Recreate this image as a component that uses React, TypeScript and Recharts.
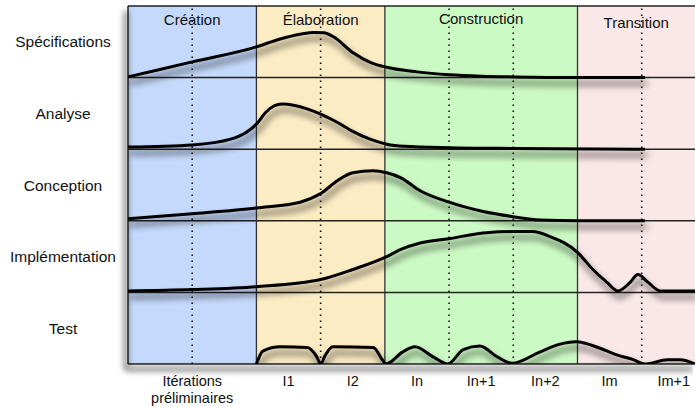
import React from 'react';
import { ComposedChart, Line, XAxis, YAxis, ReferenceArea, ReferenceLine } from 'recharts';

// Disciplines, bottom row first (row index = y offset)
const disciplineNames = ['Test', 'Implémentation', 'Conception', 'Analyse', 'Spécifications'];
const rowCenters = [0.5, 1.5, 2.5, 3.5, 4.5];

// Phases (x in iterations)
const phaseNames = ['Création', 'Élaboration', 'Construction', 'Transition'];
const phaseStarts = [0, 2, 4, 7];
const phaseEnds = [2, 4, 7, 8.83];

// Iteration boundaries
const phaseBoundaries = [2, 4, 7];
const iterationLines = [1, 3, 5, 6, 8];
const rowDividers = [1, 2, 3, 4];

// Bottom tick labels
const tickPositions = [1, 2.5, 3.5, 4.5, 5.5, 6.5, 7.5, 8.5];
const tickLabels = ['Itérations\npréliminaires', 'I1', 'I2', 'In', 'In+1', 'In+2', 'Im', 'Im+1'];

// Effort curves: [iteration, relative effort within row]
const specifications: [number, number][] = [
  [0, 0.01], [1, 0.22], [2, 0.43], [2.37, 0.54], [2.7, 0.61], [2.9, 0.63], [3.05, 0.625],
  [3.2, 0.57], [3.5, 0.35], [3.78, 0.21], [4.05, 0.14], [4.5, 0.08], [5, 0.04], [5.5, 0.02],
  [6, 0.01], [7, 0], [8.05, 0],
];
const analyse: [number, number][] = [
  [0, 0.03], [1, 0.06], [1.6, 0.14], [1.85, 0.24], [2, 0.35], [2.15, 0.52], [2.4, 0.63],
  [2.8, 0.56], [3, 0.49], [3.25, 0.38], [3.5, 0.25], [3.77, 0.14], [4.03, 0.07], [4.3, 0.04],
  [5, 0.02], [6, 0.01], [8.05, 0],
];
const conception: [number, number][] = [
  [0, 0.03], [1, 0.1], [2, 0.18], [2.68, 0.26], [3, 0.38], [3.26, 0.56], [3.5, 0.67],
  [3.82, 0.7], [4.03, 0.67], [4.25, 0.6], [4.55, 0.42], [5, 0.26], [5.53, 0.13], [5.98, 0.06],
  [6.42, 0.01], [7, 0], [8.05, 0],
];
const implementation: [number, number][] = [
  [0, 0.02], [1, 0.04], [2, 0.08], [3, 0.18], [3.5, 0.32], [4.03, 0.5], [4.25, 0.6],
  [4.55, 0.69], [5, 0.75], [5.53, 0.83], [6, 0.85], [6.3, 0.85], [6.57, 0.78], [7, 0.56],
  [7.24, 0.32], [7.46, 0.14], [7.63, 0.02], [7.82, 0.14], [7.94, 0.25], [8.1, 0.14],
  [8.29, 0.02], [8.83, 0.02],
];
const test: [number, number][] = [
  [2, 0], [2.1, 0.18], [2.37, 0.24], [2.79, 0.23], [2.94, 0.1], [3.0, 0], [3.07, 0.12],
  [3.19, 0.24], [3.82, 0.23], [3.96, 0.06], [4.02, 0], [4.28, 0.17], [4.47, 0.24], [4.75, 0.1],
  [4.98, 0], [5.22, 0.2], [5.48, 0.25], [5.75, 0.1], [5.98, 0.01], [6.42, 0.17], [6.7, 0.27],
  [6.98, 0.31], [7.35, 0.22], [7.6, 0.13], [7.87, 0.06], [8.05, 0], [8.4, 0.06], [8.6, 0.06],
  [8.83, 0],
];

const series = [test, implementation, conception, analyse, specifications];

// ---- styles ----
const FONT = '"Liberation Sans", Arial, Helvetica, sans-serif';
const phaseColors = ['#C4D9FB', '#FCECC4', '#CCFAC4', '#FAE8E8'];
const phaseLabelOffsets = [8, 8, 7, 11];
const WIDTH = 695;
const HEIGHT = 407;
const Y_AXIS_WIDTH = 128;

const toRow = (pts: [number, number][], row: number) => pts.map(([x, v]) => ({ x, y: row + v }));

const LeftTick = (props: any) => {
  const { y, payload } = props;
  const idx = rowCenters.indexOf(payload.value);
  return (
    <text x={Y_AXIS_WIDTH / 2 - 1} y={y} textAnchor="middle" dominantBaseline="central"
      fontFamily={FONT} fontSize={15.5} fill="#111">
      {disciplineNames[idx]}
    </text>
  );
};

const BottomTick = (props: any) => {
  const { x, y, payload } = props;
  const idx = tickPositions.indexOf(payload.value);
  const lines = (tickLabels[idx] || '').split('\n');
  return (
    <text x={x} y={y + 14} textAnchor="middle" fontFamily={FONT} fontSize={14.5} fill="#111">
      {lines.map((l, i) => (
        <tspan key={i} x={x} dy={i === 0 ? 0 : 17}>{l}</tspan>
      ))}
    </text>
  );
};

export default function App() {
  return (
    <div style={{ position: 'absolute', left: 0, top: 0, background: '#fff' }}>
      <ComposedChart width={WIDTH} height={HEIGHT} margin={{ top: 6, right: 0, left: 0, bottom: 0 }}>
        <defs>
          <filter id="hump-shadow" filterUnits="userSpaceOnUse" x="0" y="0" width={WIDTH} height={HEIGHT}>
            <feGaussianBlur in="SourceAlpha" stdDeviation="3.5" />
            <feOffset dx="2" dy="6" />
            <feComponentTransfer>
              <feFuncA type="linear" slope="0.75" />
            </feComponentTransfer>
            <feMerge>
              <feMergeNode />
              <feMergeNode in="SourceGraphic" />
            </feMerge>
          </filter>
          <filter id="frame-shadow" filterUnits="userSpaceOnUse" x="0" y="0" width={WIDTH} height={HEIGHT}>
            <feGaussianBlur in="SourceAlpha" stdDeviation="3" />
            <feOffset dx="-2" dy="5" />
            <feComponentTransfer>
              <feFuncA type="linear" slope="1.5" />
            </feComponentTransfer>
            <feMerge>
              <feMergeNode />
              <feMergeNode in="SourceGraphic" />
            </feMerge>
          </filter>
        </defs>
        <XAxis dataKey="x" type="number" domain={[0, 8.83]} allowDataOverflow ticks={tickPositions}
          interval={0} tick={<BottomTick />} axisLine={false} tickLine={false} height={43} />
        <YAxis type="number" domain={[0, 5]} allowDataOverflow ticks={rowCenters} interval={0}
          tick={<LeftTick />} axisLine={false} tickLine={false} width={Y_AXIS_WIDTH} />
        {phaseNames.map((name, i) => (
          <ReferenceArea key={name} x1={phaseStarts[i]} x2={phaseEnds[i]} y1={0} y2={5}
            fill={phaseColors[i]} fillOpacity={1} stroke="none" ifOverflow="hidden"
            label={{ value: name, position: 'insideTop', offset: phaseLabelOffsets[i], fill: '#111', fontSize: 15, fontFamily: FONT }} />
        ))}
        {iterationLines.map((x) => (
          <ReferenceLine key={'it' + x} x={x} stroke="#111" strokeWidth={1.6} strokeDasharray="1.6 4.4" />
        ))}
        {phaseBoundaries.map((x) => (
          <ReferenceLine key={'pb' + x} x={x} stroke="#333" strokeWidth={1.3} />
        ))}
        {rowDividers.map((y) => (
          <ReferenceLine key={'rd' + y} y={y} stroke="#222" strokeWidth={1.5} />
        ))}
        <ReferenceLine y={5} stroke="#222" strokeWidth={1.5} />
        <ReferenceLine y={0} stroke="#222" strokeWidth={1.5} filter="url(#frame-shadow)" />
        <ReferenceLine x={0} stroke="#222" strokeWidth={1.5} filter="url(#frame-shadow)" />
        {series.map((pts, row) => (
          <Line key={disciplineNames[row]} data={toRow(pts, row)} dataKey="y" type="monotone"
            stroke="#000" strokeWidth={3} dot={false} activeDot={false} isAnimationActive={false}
            filter="url(#hump-shadow)" />
        ))}
      </ComposedChart>
    </div>
  );
}
